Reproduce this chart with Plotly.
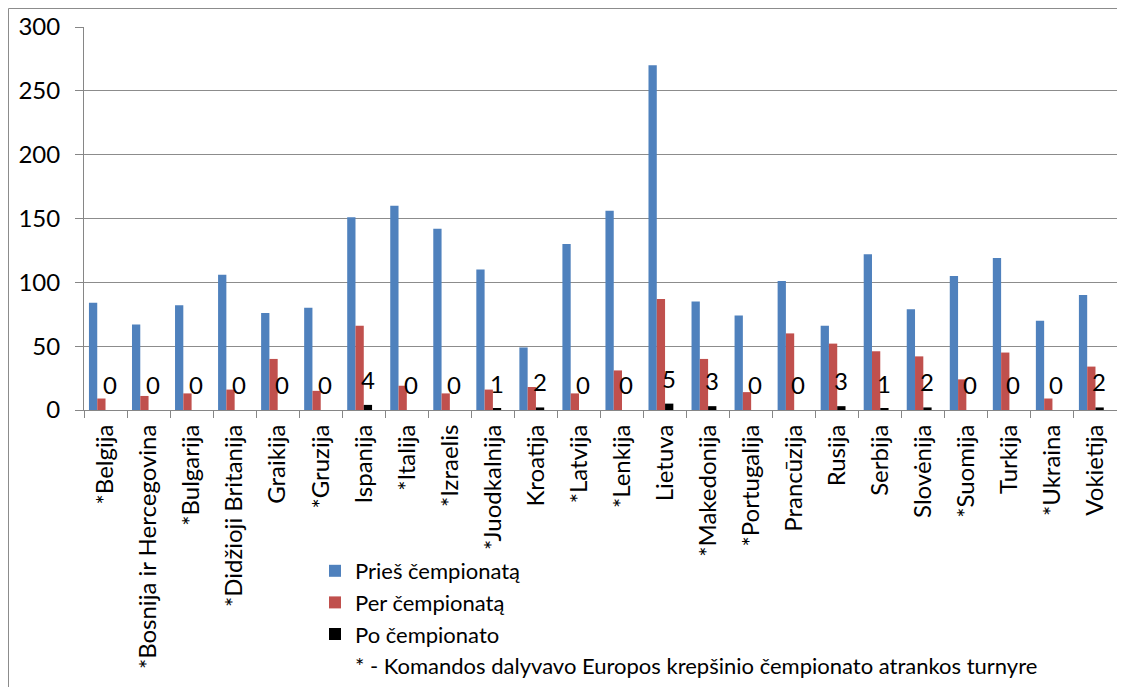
import plotly.graph_objects as go

countries = ["*Belgija", "*Bosnija ir Hercegovina", "*Bulgarija", "*Didžioji Britanija", "Graikija",
             "*Gruzija", "Ispanija", "*Italija", "*Izraelis", "*Juodkalnija", "Kroatija", "*Latvija",
             "*Lenkija", "Lietuva", "*Makedonija", "*Portugalija", "Prancūzija", "Rusija", "Serbija",
             "Slovėnija", "*Suomija", "Turkija", "*Ukraina", "Vokietija"]
pries = [84, 67, 82, 106, 76, 80, 151, 160, 142, 110, 49, 130, 156, 270, 85, 74, 101, 66, 122, 79, 105, 119, 70, 90]
per = [9, 11, 13, 16, 40, 15, 66, 19, 13, 16, 18, 13, 31, 87, 40, 14, 60, 52, 46, 42, 24, 45, 9, 34]
po = [0, 0, 0, 0, 0, 0, 4, 0, 0, 1, 2, 0, 0, 5, 3, 0, 0, 3, 1, 2, 0, 0, 0, 2]
footnote = [None, None, None, None, None, None, None, None, None, None, None, None,
            None, None, None, None, None, None, None, None, None, None, None, None]

series_names = ["Prieš čempionatą", "Per čempionatą", "Po čempionato",
                "* - Komandos dalyvavo Europos krepšinio čempionato atrankos turnyre"]
colors = ["#4F81BD", "#C0504D", "#000000", "rgba(0,0,0,0)"]

FONT = "Lato"
FS = 24

fig = go.Figure()
for name, vals, col in zip(series_names, [pries, per, po, footnote], colors):
    fig.add_trace(go.Bar(x=countries, y=vals, name=name, marker=dict(color=col, line=dict(width=0)),
                         hoverinfo="x+y"))

# data labels for the "Po čempionato" series
for c, v in zip(countries, po):
    fig.add_annotation(x=c, y=v, text=str(v), showarrow=False, xref="x", yref="y",
                       yanchor="bottom", xanchor="center", xshift=4, yshift=9,
                       font=dict(family=FONT, size=FS, color="black"))

# outer chart frame (partly outside the visible page)
fig.add_shape(type="rect", xref="paper", yref="paper", x0=(8.5 - 84) / 1033, x1=1.1,
              y0=-1.0, y1=(410 - 8.5) / 383,
              line=dict(color="#8C8C8C", width=1), fillcolor="rgba(0,0,0,0)", layer="below")

# page body adds an 8px offset; plot area spans x 84..1117, y 27..410 on screen
fig.update_layout(
    width=1117, height=679,
    margin=dict(l=76, r=8, t=19, b=277, autoexpand=False),
    paper_bgcolor="white", plot_bgcolor="white",
    barmode="group", bargap=0.23, bargroupgap=0,
    font=dict(family=FONT, size=FS, color="black"),
    showlegend=True,
    legend=dict(x=(315 - 84) / 1033, xanchor="left", y=(410 - 550) / 383, yanchor="top",
                orientation="v", font=dict(family=FONT, size=22, color="black"),
                bgcolor="rgba(0,0,0,0)", borderwidth=0, traceorder="normal"),
)
fig.update_xaxes(type="category", showline=True, linecolor="#868686", linewidth=1,
                 ticks="outside", tickson="boundaries", ticklen=7, tickcolor="#868686",
                 tickangle=-90, showgrid=False, automargin=False, ticklabelstandoff=4,
                 tickfont=dict(family=FONT, size=FS, color="black"))
fig.update_yaxes(range=[0, 300], dtick=50, tick0=0, showline=True, linecolor="#868686", linewidth=1,
                 ticks="outside", ticklen=8, tickcolor="#868686", automargin=False,
                 showgrid=True, gridcolor="#8C8C8C", gridwidth=1, zeroline=False,
                 ticklabelstandoff=10, tickfont=dict(family=FONT, size=FS, color="black"))

fig.write_html("out.html")
